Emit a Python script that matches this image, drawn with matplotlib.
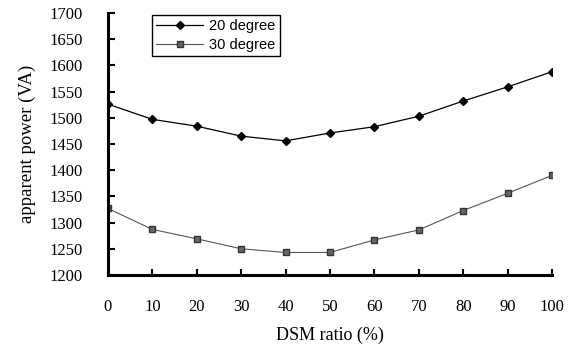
import matplotlib
matplotlib.use("Agg")
import matplotlib.pyplot as plt

dsm_ratio = [0, 10, 20, 30, 40, 50, 60, 70, 80, 90, 100]
power_20deg = [1526, 1497, 1484, 1465, 1456, 1471, 1483, 1503, 1532, 1559, 1588]
power_30deg = [1327, 1287, 1269, 1250, 1243, 1243, 1267, 1286, 1323, 1356, 1390]
yticks = [1200, 1250, 1300, 1350, 1400, 1450, 1500, 1550, 1600, 1650, 1700]

fig = plt.figure(figsize=(5.78, 3.47), dpi=100)
ax = fig.add_axes([108/578, 1-275/347, (552-108)/578, (275-13)/347])

ax.plot(dsm_ratio, power_20deg, color="black", lw=0.9, marker="D", ms=4.5,
        mfc="black", mec="black", label="20 degree")
ax.plot(dsm_ratio, power_30deg, color="#555555", lw=0.8, marker="s", ms=4.5,
        mfc="#666666", mec="#333333", label="30 degree")

ax.set_xlim(0, 100)
ax.set_ylim(1200, 1700)
ax.set_xticks(dsm_ratio)
ax.set_yticks(yticks)
for s in ["top", "right"]:
    ax.spines[s].set_visible(False)
for s in ["left", "bottom"]:
    ax.spines[s].set_linewidth(2.2)

serif = ["Liberation Serif", "DejaVu Serif"]
ax.tick_params(axis="y", direction="in", length=5, width=1.5, pad=18, labelsize=12)
ax.tick_params(axis="x", direction="in", length=4, width=1.5, pad=17, labelsize=12)
for lab in ax.get_xticklabels() + ax.get_yticklabels():
    lab.set_fontfamily(serif)

ax.set_xlabel("DSM ratio (%)", fontfamily=serif, fontsize=13, labelpad=9)
ax.set_ylabel("apparent power (VA)", fontfamily=serif, fontsize=13.5, labelpad=10)

leg = ax.legend(loc="upper left", bbox_to_anchor=((152-108)/444, 1-(15-13)/262),
                frameon=True, fancybox=False, edgecolor="black", framealpha=1,
                prop={"family": "Liberation Sans", "size": 10.5},
                handlelength=3.2, borderpad=0.3, labelspacing=0.3,
                handletextpad=0.4, borderaxespad=0)
leg.get_frame().set_linewidth(1.0)

fig.savefig("out.png", dpi=100)
